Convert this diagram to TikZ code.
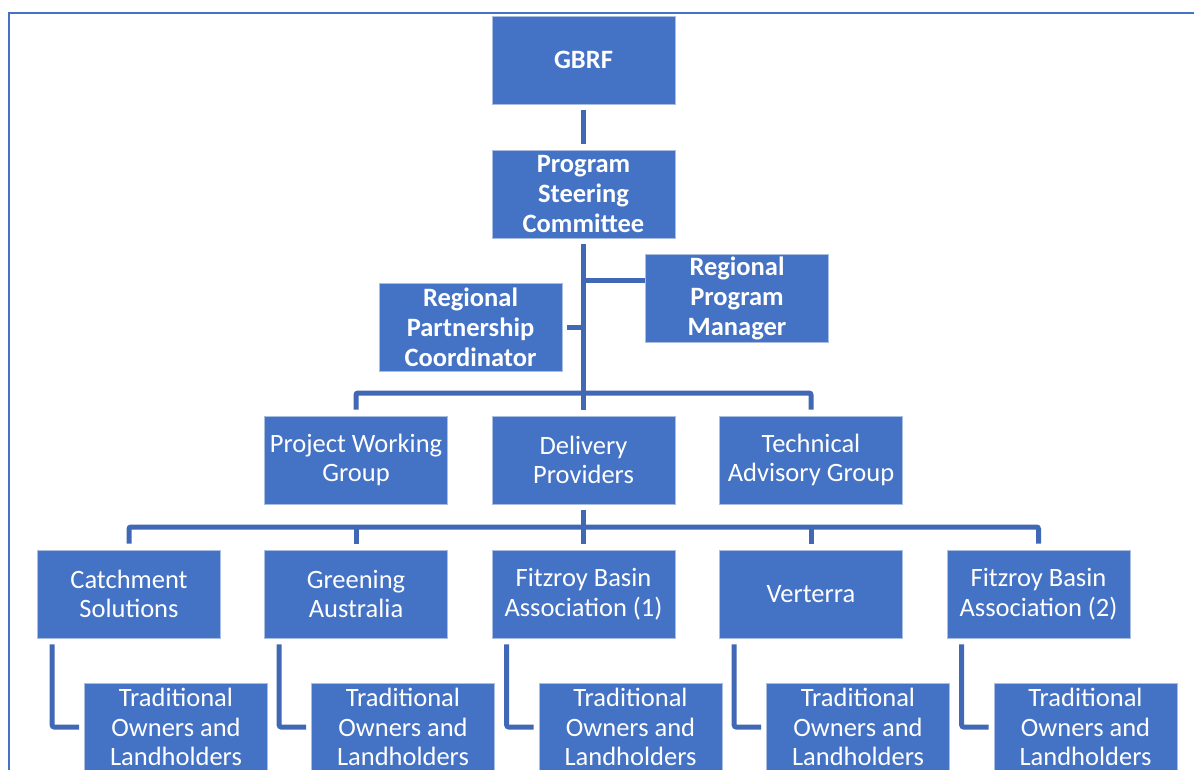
\documentclass[tikz,border=0pt]{standalone}
\usepackage{fontspec}
\setmainfont{Carlito}
\definecolor{boxfill}{RGB}{68,114,196}
\definecolor{boxedge}{RGB}{170,190,225}
\definecolor{linecol}{RGB}{64,104,180}
\definecolor{framecol}{RGB}{68,114,196}
\pgfdeclarelayer{bg}
\pgfsetlayers{bg,main}
\begin{document}
\begin{tikzpicture}[x=1pt,y=-1pt,
  orgbox/.style={rectangle, fill=boxfill, draw=boxedge, line width=0.6pt,
    minimum width=183pt, minimum height=88pt, inner sep=1pt, text=white,
    align=center, font=\fontsize{26.5}{29.5}\selectfont},
  topbox/.style={orgbox, font=\fontsize{26.5}{30}\selectfont\bfseries},
  conn/.style={draw=linecol, line width=5pt, rounded corners=2pt}]
\useasboundingbox (0,0) rectangle (1194,769);
\clip (0,0) rectangle (1194,769);
\begin{pgfonlayer}{bg}
\fill[white] (0,0) rectangle (1194,769);
\draw[framecol, line width=2pt] (8.5,780) -- (8.5,12.5) -- (1200,12.5);
\end{pgfonlayer}

\node[topbox] (gbrf) at (583.5,60) {GBRF};
\node[topbox] (psc) at (583.5,194) {Program\\Steering\\Committee};
\node[topbox] (rpc) at (470.5,327) {Regional\\Partnership\\Coordinator};
\node[topbox] (rpm) at (737,298) {Regional\\Program\\Manager};

\node[orgbox] (pwg) at (356,460) {Project Working\\Group};
\node[orgbox] (dp) at (583.5,460) {Delivery\\Providers};
\node[orgbox] (tag) at (811,460) {Technical\\Advisory Group};

\node[orgbox] (cs) at (129,594) {Catchment\\Solutions};
\node[orgbox] (ga) at (356,594) {Greening\\Australia};
\node[orgbox] (fba1) at (583.5,594) {Fitzroy Basin\\Association (1)};
\node[orgbox] (ver) at (811,594) {Verterra};
\node[orgbox] (fba2) at (1038.5,594) {Fitzroy Basin\\Association (2)};

\node[orgbox] (t1) at (176,727) {Traditional\\Owners and\\Landholders};
\node[orgbox] (t2) at (403,727) {Traditional\\Owners and\\Landholders};
\node[orgbox] (t3) at (630.5,727) {Traditional\\Owners and\\Landholders};
\node[orgbox] (t4) at (858,727) {Traditional\\Owners and\\Landholders};
\node[orgbox] (t5) at (1085.5,727) {Traditional\\Owners and\\Landholders};

\coordinate (bus1) at (583.5,393);
\coordinate (bus2) at (583.5,527);

\begin{pgfonlayer}{bg}
\draw[conn] ([yshift=-6pt]gbrf.south) -- ([yshift=6pt]psc.north);
\draw[conn] ([yshift=-6pt]psc.south) -- ([yshift=6pt]dp.north);
\draw[conn] ([yshift=6pt]pwg.north) |- (bus1) -| ([yshift=6pt]tag.north);
\draw[conn] (psc.south |- 0,280) -- ([xshift=8pt]rpm.west |- 0,280);
\draw[conn] ([xshift=5pt]rpc.east) -- (psc.south |- rpc.east);
\draw[conn] ([yshift=-6pt]dp.south) -- (bus2);
\draw[conn] ([yshift=6pt]cs.north) |- (bus2) -| ([yshift=6pt]fba2.north);
\draw[conn] ([yshift=6pt]ga.north) -- (ga.north |- bus2);
\draw[conn] ([yshift=6pt]fba1.north) -- (bus2);
\draw[conn] ([yshift=6pt]ver.north) -- (ver.north |- bus2);
\draw[conn] ([xshift=15pt,yshift=-6pt]cs.south west) |- ([xshift=-5pt]t1.west);
\draw[conn] ([xshift=15pt,yshift=-6pt]ga.south west) |- ([xshift=-5pt]t2.west);
\draw[conn] ([xshift=15pt,yshift=-6pt]fba1.south west) |- ([xshift=-5pt]t3.west);
\draw[conn] ([xshift=15pt,yshift=-6pt]ver.south west) |- ([xshift=-5pt]t4.west);
\draw[conn] ([xshift=15pt,yshift=-6pt]fba2.south west) |- ([xshift=-5pt]t5.west);
\end{pgfonlayer}
\end{tikzpicture}
\end{document}
